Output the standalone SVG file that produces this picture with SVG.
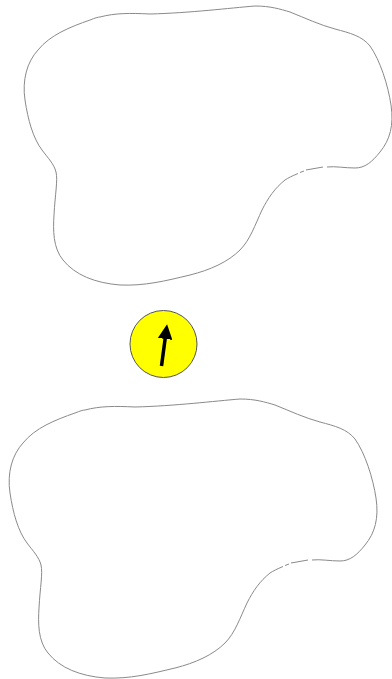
<svg xmlns="http://www.w3.org/2000/svg" xmlns:xlink="http://www.w3.org/1999/xlink" width="392" height="679" viewBox="0 0 392 679">
<style>
.blob{fill:none;stroke:#8a8a8a;stroke-width:1}
.dot{fill:#ffff00;stroke:#555;stroke-width:1}
.arr{stroke:#000;stroke-width:3.5;fill:none}
</style>
<defs>
<marker id="ah" viewBox="0 0 10 10" refX="2" refY="5" markerWidth="4.2" markerHeight="4.2" orient="auto" markerUnits="strokeWidth">
<path d="M0,0 L10,5 L0,10 Z" fill="#000"/>
</marker>
<path id="shape" class="blob" d="M100,17 C115,13 130,13 150,14 C190,13 230,8 255,6 C270,6 280,9 290,12 C305,18 320,25 335,29 C350,33 362,36 370,46 C380,60 388,85 391,105 C394,125 390,140 380,152 C372,162 365,168 355,168 C345,168 335,166 327,167 M323,167 L306,170 M304,171 L300,172.5 M298,173.5 C292,176 288,178 285,180 C275,188 268,198 262,210 C255,225 250,240 240,250 C228,262 210,270 190,275 C165,281 145,286 120,285 C95,283 75,275 63,260 C53,248 53,230 54,215 C55,195 58,180 56,172 C54,164 48,158 42,150 C33,138 28,120 25,100 C22,80 27,62 38,50 C50,35 70,27 90,20 C95,18 98,17 100,17"/>
</defs>
<g id="region-top"><use xlink:href="#shape"/></g>
<g id="region-bottom"><use xlink:href="#shape" transform="translate(-15,393)"/></g>
<g id="north-arrow">
<circle class="dot" cx="163.5" cy="344" r="33.5"/>
<line class="arr" x1="161.5" y1="366" x2="165.5" y2="336" marker-end="url(#ah)"/>
</g>
</svg>
